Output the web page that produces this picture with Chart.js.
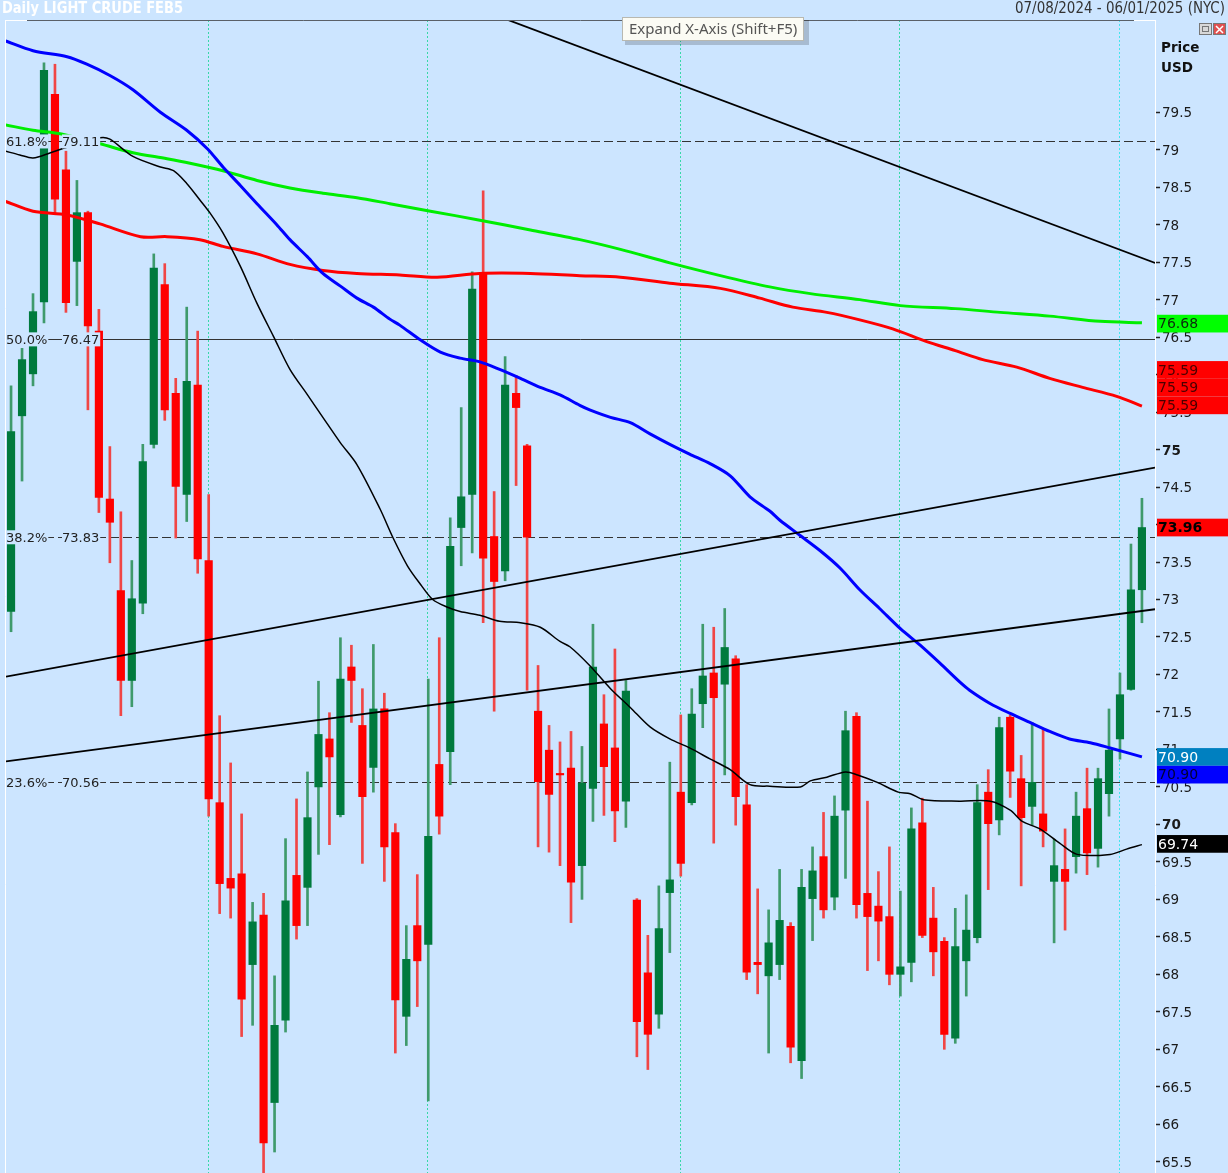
<!DOCTYPE html>
<html lang="en">
<head>
    <meta charset="UTF-8">
    <title>Daily LIGHT CRUDE FEB5</title>
    <style>
        body { margin: 0; background: #cce5ff; overflow: hidden; }
        #grafico { display: block; }
    </style>
</head>
<body>
<canvas id="grafico" width="1228" height="1173"></canvas>
<script src="https://cdn.jsdelivr.net/npm/chart.js"></script>
<script>
    // candles (one per trading day, index 0..103)
    const candleOpen = [72.84, 75.45, 76.01, 76.97, 79.74, 78.73, 77.51, 78.16, 76.58, 74.34,
        73.12, 71.92, 72.95, 75.07, 77.20, 75.75, 74.40, 75.86, 73.52, 70.29,
        69.28, 69.34, 68.13, 68.79, 66.29, 67.39, 69.32, 69.16, 70.50, 71.14,
        70.13, 72.10, 71.32, 70.76, 71.54, 69.89, 67.44, 68.65, 68.40, 70.80,
        70.97, 73.96, 74.40, 77.35, 73.84, 73.38, 75.75, 75.05, 71.51, 70.99,
        70.68, 70.75, 69.45, 70.48, 71.34, 71.02, 70.31, 68.99, 68.02, 67.47,
        69.09, 70.43, 70.29, 71.61, 72.02, 71.87, 72.21, 70.26, 68.16, 67.98,
        68.13, 68.64, 66.85, 69.01, 69.57, 69.03, 70.19, 71.44, 69.08, 68.91,
        68.77, 68.00, 68.16, 70.02, 68.75, 68.44, 67.15, 68.18, 68.49, 70.43,
        70.06, 71.43, 70.61, 70.24, 70.14, 69.24, 69.40, 69.57, 70.21, 69.68,
        70.41, 71.14, 71.80, 73.13];
    const candleHigh = [75.85, 76.35, 77.08, 80.16, 80.14, 78.98, 78.59, 78.18, 76.87, 75.04,
        74.17, 73.52, 75.07, 77.61, 77.48, 75.95, 76.90, 76.58, 74.40, 71.45,
        70.82, 70.14, 68.96, 69.08, 67.98, 69.81, 70.34, 70.70, 71.91, 71.49,
        72.49, 72.39, 71.81, 72.40, 71.75, 70.01, 68.65, 69.33, 71.94, 72.49,
        74.09, 75.56, 77.37, 78.45, 74.44, 76.24, 75.99, 75.07, 72.12, 71.32,
        71.10, 71.24, 71.04, 72.67, 71.73, 72.34, 71.92, 69.01, 68.52, 69.18,
        70.83, 71.46, 71.81, 72.67, 72.63, 72.88, 72.25, 70.53, 69.14, 68.86,
        69.40, 68.69, 69.40, 69.70, 70.16, 70.38, 71.51, 71.49, 70.31, 69.37,
        69.70, 69.11, 70.22, 70.35, 69.16, 68.49, 68.88, 69.06, 70.53, 70.73,
        71.43, 71.46, 70.92, 71.36, 71.27, 69.80, 69.94, 70.43, 70.75, 70.75,
        71.54, 72.02, 73.74, 74.35];
    const candleLow = [72.57, 74.58, 75.85, 76.69, 78.16, 76.83, 76.92, 75.53, 74.16, 73.49,
        71.45, 71.57, 72.81, 75.02, 75.39, 73.82, 74.04, 73.35, 70.11, 68.81,
        68.75, 67.17, 67.32, 65.30, 65.63, 67.23, 68.47, 68.65, 69.60, 69.73,
        70.10, 71.36, 69.48, 70.43, 69.24, 66.95, 67.05, 67.57, 66.31, 69.87,
        70.53, 73.45, 73.62, 72.69, 71.51, 73.25, 74.52, 71.79, 69.70, 69.63,
        69.45, 68.69, 69.00, 70.04, 70.12, 69.77, 69.96, 66.90, 66.73, 67.28,
        68.29, 69.31, 70.26, 71.29, 69.75, 70.66, 69.99, 67.93, 67.74, 66.95,
        67.93, 66.82, 66.61, 68.45, 68.75, 68.86, 69.28, 68.75, 68.05, 68.18,
        67.86, 67.71, 67.90, 68.49, 67.98, 67.00, 67.08, 67.71, 68.42, 69.13,
        69.86, 70.36, 69.18, 69.99, 69.70, 68.42, 68.59, 69.35, 69.33, 69.43,
        70.11, 70.87, 71.79, 72.69];
    const candleClose = [75.24, 76.20, 76.84, 80.06, 78.34, 76.96, 78.16, 76.65, 74.36, 74.03,
        71.92, 73.01, 74.84, 77.42, 75.53, 74.51, 75.91, 73.54, 70.34, 69.21,
        69.15, 67.67, 68.70, 65.75, 67.32, 68.98, 68.65, 70.09, 71.20, 70.90,
        71.94, 71.92, 70.37, 71.54, 69.70, 67.66, 68.20, 68.18, 69.84, 70.11,
        73.71, 74.37, 77.14, 73.55, 73.24, 75.86, 75.56, 73.83, 70.57, 70.40,
        70.66, 69.23, 70.55, 72.10, 70.77, 70.18, 71.78, 67.37, 67.20, 68.61,
        69.26, 69.48, 71.47, 71.98, 71.69, 72.36, 70.37, 68.03, 68.13, 68.42,
        68.72, 67.03, 69.16, 69.38, 68.86, 70.11, 71.25, 68.93, 68.77, 68.71,
        68.00, 68.10, 69.94, 68.52, 68.30, 67.20, 68.37, 68.59, 70.29, 70.01,
        71.29, 70.71, 70.09, 70.56, 69.91, 69.45, 69.24, 70.11, 69.62, 70.61,
        70.99, 71.73, 73.13, 73.96];

    // moving averages (x = candle index)
    const blueX = [-0.5, 2.0, 5.1, 6.9, 9.0, 11.1, 13.6, 16.0, 17.9, 19.3, 20.9, 22.4, 24.2, 25.4, 27.0,
        28.4, 30.0, 31.5, 33.0, 34.5, 35.4, 37.3, 39.1, 40.9, 42.7, 44.5, 46.4, 48.2, 50.0, 51.8,
        52.7, 54.6, 56.4, 58.2, 60.0, 61.8, 63.7, 65.5, 67.3, 69.1, 70.0, 71.9, 73.7, 75.5, 77.3,
        79.1, 81.0, 82.8, 84.6, 86.4, 87.3, 89.2, 91.0, 92.8, 94.6, 96.4, 98.3, 100.1, 103.0];
    const blueY = [80.45, 80.32, 80.24, 80.14, 79.99, 79.80, 79.50, 79.26, 79.01, 78.77, 78.52, 78.28, 78.00, 77.80, 77.57,
        77.35, 77.18, 77.02, 76.90, 76.74, 76.66, 76.46, 76.30, 76.22, 76.17, 76.07, 75.95, 75.83, 75.73, 75.59,
        75.53, 75.43, 75.36, 75.21, 75.07, 74.94, 74.81, 74.65, 74.37, 74.18, 74.06, 73.85, 73.65, 73.42, 73.13,
        72.88, 72.61, 72.39, 72.15, 71.90, 71.79, 71.61, 71.48, 71.36, 71.24, 71.14, 71.09, 71.02, 70.90];

    const blackX = [-0.5, 0.8, 2.0, 3.6, 4.6, 8.1, 9.0, 11.1, 13.6, 14.8, 16.0, 17.2, 18.1, 19.3, 20.9,
        22.4, 23.9, 25.4, 27.0, 28.4, 30.0, 31.5, 33.6, 34.8, 36.1, 37.3, 38.4, 39.7, 40.9, 42.7,
        44.5, 46.4, 48.2, 50.0, 50.9, 52.7, 54.6, 56.4, 58.2, 60.0, 61.8, 63.7, 65.5, 67.3, 69.1,
        71.9, 72.8, 74.3, 76.0, 77.1, 78.9, 80.8, 81.9, 83.1, 86.4, 89.2, 91.0, 92.1, 93.7, 95.5,
        97.1, 100.1, 101.6, 103.0];
    const blackY = [78.98, 78.93, 78.89, 78.96, 79.01, 79.16, 79.14, 78.91, 78.77, 78.72, 78.55, 78.33, 78.16, 77.89, 77.44,
        76.95, 76.51, 76.07, 75.73, 75.43, 75.09, 74.80, 74.21, 73.82, 73.45, 73.20, 73.00, 72.90, 72.84, 72.79,
        72.71, 72.69, 72.63, 72.44, 72.37, 72.12, 71.81, 71.56, 71.30, 71.14, 71.02, 70.87, 70.73, 70.53, 70.51,
        70.50, 70.58, 70.63, 70.70, 70.66, 70.56, 70.43, 70.41, 70.33, 70.31, 70.31, 70.19, 70.04, 69.94, 69.75,
        69.60, 69.60, 69.67, 69.73];

    const greenX = [-0.5, 2.0, 4.6, 8.1, 11.1, 14.2, 16.3, 19.3, 22.4, 25.4, 28.4, 31.5, 34.5, 38.2, 42.7,
        47.3, 51.8, 55.5, 60.0, 64.6, 69.1, 72.8, 77.3, 81.0, 86.0, 90.1, 94.6, 99.2, 103.0];
    const greenY = [79.33, 79.26, 79.21, 79.08, 78.96, 78.88, 78.82, 78.72, 78.59, 78.49, 78.42, 78.36, 78.28, 78.18, 78.06,
        77.93, 77.80, 77.67, 77.49, 77.32, 77.17, 77.08, 77.00, 76.92, 76.88, 76.83, 76.78, 76.71, 76.69];

    const redX = [-0.5, 2.0, 5.1, 8.1, 11.8, 14.2, 17.2, 19.3, 22.4, 25.4, 28.4, 31.5, 35.4, 38.8, 42.7,
        47.3, 51.8, 55.5, 60.0, 64.6, 68.2, 71.2, 74.3, 77.3, 80.3, 83.4, 86.0, 88.5, 91.6, 94.6,
        97.6, 100.7, 103.0];
    const redY = [78.31, 78.18, 78.13, 78.01, 77.84, 77.84, 77.80, 77.71, 77.61, 77.47, 77.39, 77.35, 77.33, 77.30, 77.35,
        77.35, 77.32, 77.30, 77.22, 77.15, 77.02, 76.90, 76.83, 76.73, 76.61, 76.44, 76.32, 76.20, 76.10, 75.95,
        75.83, 75.71, 75.58];

    // trend lines (two end points each)
    const trendTopX = [40, 104.2];
    const trendTopY = [81.02, 77.49];
    const trendUpX = [-0.46, 104.19];
    const trendUpY = [71.97, 74.76];
    const trendLowX = [-0.46, 104.19];
    const trendLowY = [70.84, 72.87];

    // fibonacci levels
    const fibPct = ['61.8%', '50.0%', '38.2%', '23.6%'];
    const fibValues = [79.11, 76.47, 73.83, 70.56];

    // month separators (candle index)
    const monthLines = [18, 38, 61, 81, 101];

    // price axis
    const yTicks = [65.5, 66, 66.5, 67, 67.5, 68, 68.5, 69, 69.5, 70, 70.5, 71, 71.5, 72, 72.5,
        73, 73.5, 74, 74.5, 75, 75.5, 76, 76.5, 77, 77.5, 78, 78.5, 79, 79.5];

    // last values shown on the price axis
    const lastValues = [76.68, 75.59, 75.59, 75.59, 73.96, 70.90, 70.90, 69.74];

    const fundo = '#cce5ff';

    function pontos(xs, ys) {
        return xs.map(function (v, k) { return { x: v, y: ys[k] }; });
    }

    const desenhoExtra = {
        id: 'desenhoExtra',
        beforeDraw(chart) {
            const ctx = chart.ctx;
            ctx.save();
            ctx.fillStyle = fundo;
            ctx.fillRect(0, 0, chart.width, chart.height);
            ctx.restore();
        },
        beforeDatasetsDraw(chart) {
            const ctx = chart.ctx;
            const area = chart.chartArea;
            const x = chart.scales.x;
            const y = chart.scales.y;
            ctx.save();
            ctx.lineWidth = 1;
            ctx.setLineDash([2, 2]);
            monthLines.forEach(function (i, k) {
                const px = Math.round(x.getPixelForValue(i)) - 0.5;
                ctx.strokeStyle = k === monthLines.length - 1 ? '#44e4ee' : '#38d8a8';
                ctx.beginPath();
                ctx.moveTo(px, area.top);
                ctx.lineTo(px, area.bottom);
                ctx.stroke();
            });
            fibValues.forEach(function (v, k) {
                const py = Math.round(y.getPixelForValue(v)) + 0.5;
                ctx.setLineDash(fibPct[k] === '50.0%' ? [] : [9, 4]);
                ctx.strokeStyle = '#333';
                ctx.beginPath();
                ctx.moveTo(area.left, py);
                ctx.lineTo(area.right, py);
                ctx.stroke();
            });
            ctx.restore();
        },
        afterDatasetsDraw(chart) {
            const ctx = chart.ctx;
            const area = chart.chartArea;
            const y = chart.scales.y;
            ctx.save();
            ctx.font = '13px "DejaVu Sans"';
            ctx.textBaseline = 'middle';
            fibValues.forEach(function (v, k) {
                const py = y.getPixelForValue(v);
                const t1 = fibPct[k];
                const t2 = v.toFixed(2);
                const w1 = ctx.measureText(t1).width;
                const w2 = ctx.measureText(t2).width;
                const x1 = area.left;
                const x2 = area.left + 56;
                ctx.fillStyle = fundo;
                ctx.fillRect(x1, py - 7, w1 + 1, 14);
                ctx.fillRect(x2, py - 7, w2 + 1, 14);
                ctx.fillStyle = '#222';
                ctx.fillText(t1, x1, py + 1);
                ctx.fillText(t2, x2, py + 1);
            });
            ctx.restore();
        },
        afterDraw(chart) {
            const ctx = chart.ctx;
            const area = chart.chartArea;
            const y = chart.scales.y;
            ctx.save();

            // frame
            ctx.lineWidth = 1;
            ctx.strokeStyle = '#ffffff';
            ctx.beginPath();
            ctx.moveTo(area.left - 0.5, area.top);
            ctx.lineTo(area.left - 0.5, area.bottom);
            ctx.moveTo(area.left, area.top + 0.5);
            ctx.lineTo(area.left + 21, area.top + 0.5);
            ctx.moveTo(area.right - 21, area.top + 0.5);
            ctx.lineTo(area.right, area.top + 0.5);
            ctx.stroke();
            ctx.strokeStyle = '#5a6068';
            ctx.beginPath();
            ctx.moveTo(area.left + 21, area.top + 0.5);
            ctx.lineTo(area.right - 21, area.top + 0.5);
            ctx.stroke();

            // last value boxes on the axis
            const boxH = 17.7;
            const caixas = [
                { v: lastValues[0], slot: 0, bg: '#00ff00', fg: '#0d2a0d', bold: false },
                { v: lastValues[1], slot: -2, bg: '#ff0000', fg: '#4a0000', bold: false },
                { v: lastValues[2], slot: -1, bg: '#ff0000', fg: '#4a0000', bold: false },
                { v: lastValues[3], slot: 0, bg: '#ff0000', fg: '#4a0000', bold: false },
                { v: lastValues[4], slot: 0, bg: '#ff0000', fg: '#000000', bold: true },
                { v: lastValues[5], slot: 0, bg: '#0080c0', fg: '#ffffff', bold: false },
                { v: lastValues[6], slot: 1, bg: '#0000ff', fg: '#000033', bold: false },
                { v: lastValues[7], slot: 0, bg: '#000000', fg: '#ffffff', bold: false }
            ];
            ctx.textBaseline = 'middle';
            caixas.forEach(function (c) {
                const cy = y.getPixelForValue(c.v) + c.slot * boxH;
                ctx.fillStyle = c.bg;
                ctx.fillRect(area.right + 2, cy - boxH / 2, chart.width - area.right - 2, boxH);
                ctx.fillStyle = c.fg;
                ctx.font = (c.bold ? 'bold ' : '') + '14px "DejaVu Sans"';
                ctx.fillText(c.v.toFixed(2), area.right + 3, cy + 1);
            });

            // axis title
            ctx.fillStyle = '#111';
            ctx.font = 'bold 13.5px "DejaVu Sans"';
            ctx.fillText('Price', area.right + 6, 48);
            ctx.fillText('USD', area.right + 6, 68);

            // small window buttons
            ctx.fillStyle = '#d8d8d8';
            ctx.strokeStyle = '#777';
            ctx.fillRect(1199.5, 23.5, 12, 11);
            ctx.strokeRect(1199.5, 23.5, 12, 11);
            ctx.strokeRect(1202.5, 26.5, 6, 5);
            ctx.fillStyle = '#e05050';
            ctx.fillRect(1213.5, 23.5, 12, 11);
            ctx.strokeRect(1213.5, 23.5, 12, 11);
            ctx.strokeStyle = '#fff';
            ctx.lineWidth = 1.5;
            ctx.beginPath();
            ctx.moveTo(1216, 26); ctx.lineTo(1223, 33);
            ctx.moveTo(1223, 26); ctx.lineTo(1216, 33);
            ctx.stroke();

            // header
            ctx.fillStyle = '#ffffff';
            ctx.font = 'bold 15px "DejaVu Sans Condensed", "DejaVu Sans"';
            ctx.textAlign = 'left';
            ctx.fillText('Daily LIGHT CRUDE FEB5', 2, 9, 181);
            ctx.fillStyle = '#333';
            ctx.font = '15px "DejaVu Sans Condensed", "DejaVu Sans"';
            ctx.textAlign = 'right';
            ctx.fillText('07/08/2024 - 06/01/2025 (NYC)', 1225, 9, 210);

            // tooltip box
            ctx.textAlign = 'left';
            ctx.fillStyle = 'rgba(0,0,0,0.18)';
            ctx.fillRect(625, 20, 184, 25);
            ctx.fillStyle = '#fbfbf4';
            ctx.fillRect(622, 17, 182, 24);
            ctx.strokeStyle = '#b8b8b0';
            ctx.lineWidth = 1;
            ctx.strokeRect(622.5, 17.5, 181, 23);
            ctx.fillStyle = '#555';
            ctx.font = '15px "Noto Sans"';
            ctx.fillText('Expand X-Axis (Shift+F5)', 629, 30, 170);

            ctx.restore();
        }
    };

    function desenharGrafico() {
        const idx = candleOpen.map(function (_, i) { return i; });
        const subiu = idx.map(function (i) { return candleClose[i] >= candleOpen[i]; });

        const ctx = document.getElementById('grafico').getContext('2d');
        new Chart(ctx, {
            type: 'bar',
            data: {
                datasets: [
                    {
                        type: 'line', data: pontos(trendTopX, trendTopY),
                        borderColor: '#000', borderWidth: 1.8, pointRadius: 0, order: 0
                    },
                    {
                        type: 'line', data: pontos(trendUpX, trendUpY),
                        borderColor: '#000', borderWidth: 1.8, pointRadius: 0, order: 0
                    },
                    {
                        type: 'line', data: pontos(trendLowX, trendLowY),
                        borderColor: '#000', borderWidth: 1.8, pointRadius: 0, order: 0
                    },
                    {
                        type: 'line', data: pontos(blackX, blackY),
                        borderColor: '#000', borderWidth: 1.5, pointRadius: 0, tension: 0.3, order: 1
                    },
                    {
                        type: 'line', data: pontos(blueX, blueY),
                        borderColor: '#0000ff', borderWidth: 3, pointRadius: 0, tension: 0.3, order: 1
                    },
                    {
                        type: 'line', data: pontos(greenX, greenY),
                        borderColor: '#00ee00', borderWidth: 3, pointRadius: 0, tension: 0.3, order: 1
                    },
                    {
                        type: 'line', data: pontos(redX, redY),
                        borderColor: '#ff0000', borderWidth: 3, pointRadius: 0, tension: 0.3, order: 1
                    },
                    {
                        data: idx.map(function (i) { return { x: i, y: [candleOpen[i], candleClose[i]] }; }),
                        backgroundColor: subiu.map(function (u) { return u ? '#007a3d' : '#ff0000'; }),
                        barThickness: 7.5, grouped: false, order: 2
                    },
                    {
                        data: idx.map(function (i) { return { x: i, y: [candleLow[i], candleHigh[i]] }; }),
                        backgroundColor: subiu.map(function (u) { return u ? '#3f9a6c' : '#f04646'; }),
                        barThickness: 2, grouped: false, order: 3
                    }
                ]
            },
            options: {
                responsive: false,
                animation: false,
                layout: { padding: { left: 6, top: 20, right: 0, bottom: 0 } },
                plugins: {
                    legend: { display: false },
                    tooltip: { enabled: false }
                },
                events: [],
                scales: {
                    x: {
                        type: 'linear', display: false, offset: false,
                        min: -0.46, max: 104.19
                    },
                    y: {
                        type: 'linear', position: 'right',
                        min: 65.35, max: 80.73, beginAtZero: false,
                        afterBuildTicks: function (scale) {
                            scale.ticks = yTicks.map(function (v) { return { value: v }; });
                        },
                        afterFit: function (scale) {
                            scale.width = 73;
                            scale.paddingTop = 0;
                            scale.paddingBottom = 0;
                        },
                        grid: { drawOnChartArea: false, tickLength: 5, tickColor: '#222', tickWidth: 1.5 },
                        border: { display: true, color: '#ffffff', width: 1 },
                        ticks: {
                            autoSkip: false,
                            padding: 2,
                            labelOffset: 1.5,
                            color: '#1a1a1a',
                            font: function (c) {
                                const v = c.tick ? c.tick.value : 0;
                                return { family: '"DejaVu Sans"', size: 13.5, weight: (v === 70 || v === 75) ? 'bold' : 'normal' };
                            },
                            callback: function (v) { return String(v); }
                        }
                    }
                }
            },
            plugins: [desenhoExtra]
        });
    }

    desenharGrafico();
</script>
</body>
</html>
